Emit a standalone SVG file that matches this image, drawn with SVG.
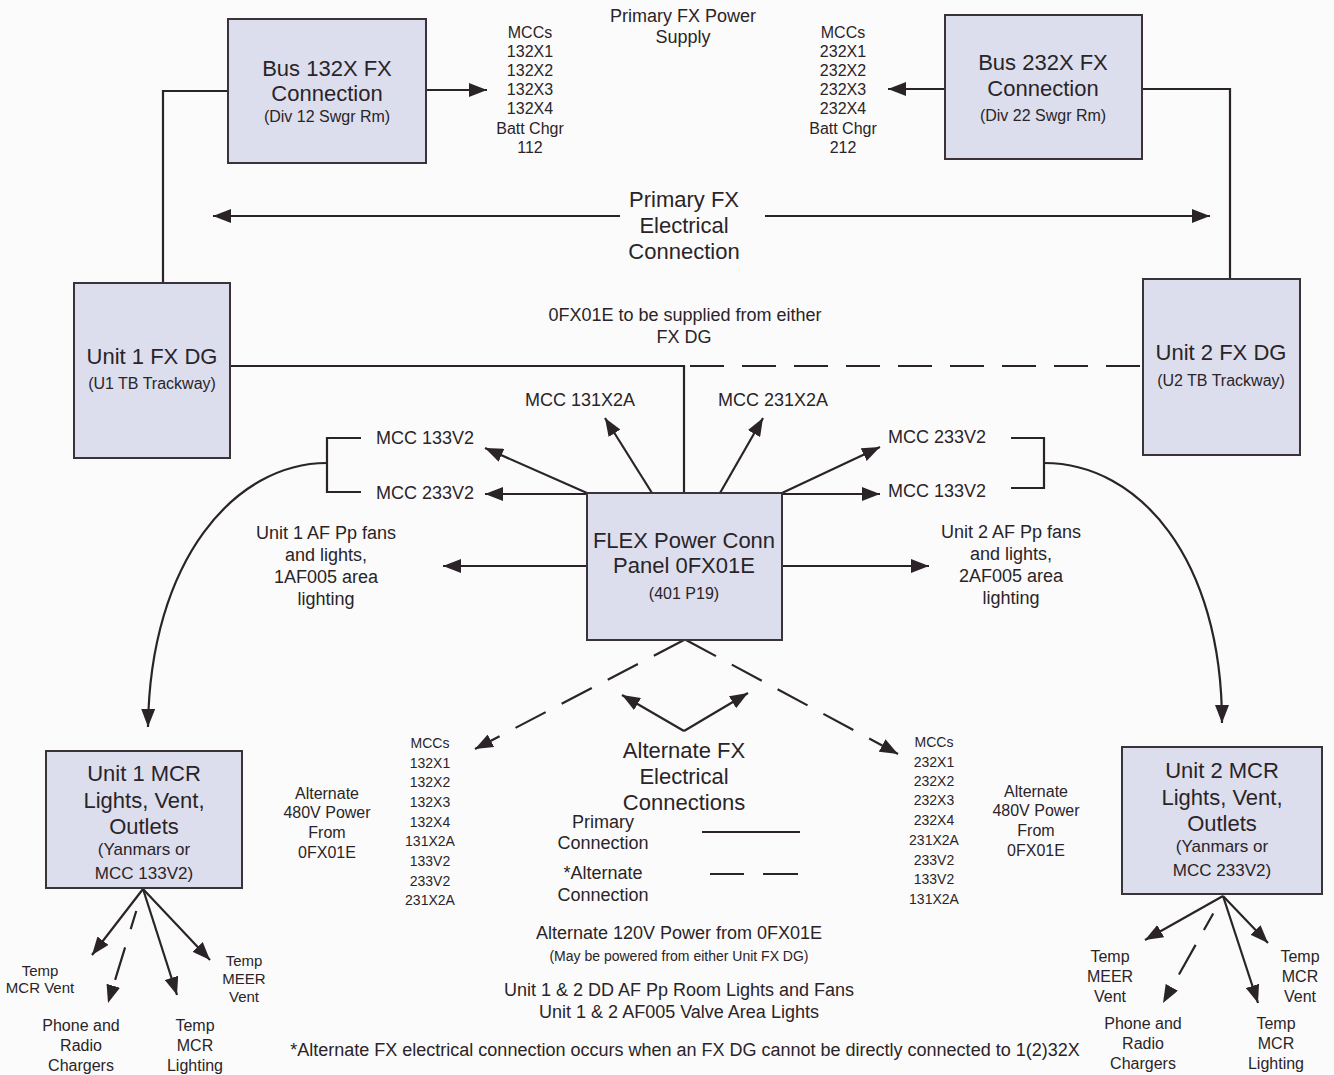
<svg xmlns="http://www.w3.org/2000/svg" width="1334" height="1075" viewBox="0 0 1334 1075">
<style>
text{font-family:"Liberation Sans",Arial,sans-serif;fill:#2a2428;text-anchor:middle}
.box{fill:#dcdeed;stroke:#3a3438;stroke-width:2}
.big{font-size:22px}
.mid{font-size:18px}
.sm{font-size:16px}
.s17{font-size:17px}
.s15{font-size:15px}
.s14{font-size:14px}
.ln{fill:none;stroke:#2a2428;stroke-width:2.2}
.ar{fill:none;stroke:#2a2428;stroke-width:2.2;marker-end:url(#ah)}
.da{stroke-dasharray:34 18}
</style>
<defs>
<marker id="ah" viewBox="0 0 18 14" refX="18" refY="7" markerWidth="18" markerHeight="14" markerUnits="userSpaceOnUse" orient="auto"><path d="M0,0 L18,7 L0,14 z" fill="#2a2428"/></marker>
</defs>
<rect width="1334" height="1075" fill="#fbfbfb"/>

<g id="connectors">
<path class="ar" d="M426,90 H487"/>
<path class="ln" d="M228,91 H163 V283"/>
<path class="ar" d="M945,89 H888"/>
<path class="ln" d="M1142,89 H1230 V279"/>
<path class="ar" d="M620,216 H213"/>
<path class="ar" d="M765,216 H1210"/>
<path class="ln" d="M230,366 H684 V493"/>
<path class="ln da" d="M690,366 H1143"/>
<path class="ar" d="M587,493 L485,448"/>
<path class="ar" d="M587,494 H485"/>
<path class="ar" d="M652,493 L605,418"/>
<path class="ar" d="M720,493 L763,418"/>
<path class="ar" d="M782,493 L880,447"/>
<path class="ar" d="M782,494 H880"/>
<path class="ar" d="M587,566 H443"/>
<path class="ar" d="M782,566 H929"/>
<path class="ln" d="M361,438 H327 V492 H361"/>
<path class="ar" d="M327,463 C235,463 150,560 148,727"/>
<path class="ln" d="M1011,438 H1044 V488 H1011"/>
<path class="ar" d="M1044,463 C1140,463 1222,560 1222,723"/>
<path class="ar da" d="M684,640 L475,749"/>
<path class="ar da" d="M686,640 L898,754"/>
<path class="ar" d="M684,731 L622,695"/>
<path class="ar" d="M684,731 L748,693"/>
<path class="ln" d="M702,832 H800"/>
<path class="ln" d="M710,874 H744 M763,874 H798"/>
<path class="ar" d="M143,889 L92,955"/>
<path class="ar" d="M143,889 L108,1003" style="stroke-dasharray:0 23 19 19 34 100"/>
<path class="ar" d="M143,889 L177,995"/>
<path class="ar" d="M143,889 L210,960"/>
<path class="ar" d="M1223,896 L1145,940"/>
<path class="ar" d="M1223,896 L1163,1003" style="stroke-dasharray:0 20 19 17 34 100"/>
<path class="ar" d="M1223,896 L1258,1003"/>
<path class="ar" d="M1223,896 L1268,943"/>
</g>

<g id="bus132x">
<rect class="box" x="228" y="19" width="198" height="144"/>
<text class="big" x="327" y="76">Bus 132X FX</text>
<text class="big" x="327" y="101">Connection</text>
<text class="sm" x="327" y="122">(Div 12 Swgr Rm)</text>
</g>
<g id="bus232x">
<rect class="box" x="945" y="15" width="197" height="144"/>
<text class="big" x="1043" y="70">Bus 232X FX</text>
<text class="big" x="1043" y="96">Connection</text>
<text class="sm" x="1043" y="121">(Div 22 Swgr Rm)</text>
</g>
<g id="unit1dg">
<rect class="box" x="74" y="283" width="156" height="175"/>
<text class="big" x="152" y="364">Unit 1 FX DG</text>
<text class="sm" x="152" y="389">(U1 TB Trackway)</text>
</g>
<g id="unit2dg">
<rect class="box" x="1143" y="279" width="157" height="176"/>
<text class="big" x="1221" y="360">Unit 2 FX DG</text>
<text class="sm" x="1221" y="386">(U2 TB Trackway)</text>
</g>
<g id="flexpanel">
<rect class="box" x="587" y="493" width="195" height="147"/>
<text class="big" x="684" y="548">FLEX Power Conn</text>
<text class="big" x="684" y="573">Panel 0FX01E</text>
<text class="sm" x="684" y="599">(401 P19)</text>
</g>
<g id="unit1mcr">
<rect class="box" x="46" y="751" width="196" height="137"/>
<text class="big" x="144" y="781">Unit 1 MCR</text>
<text class="big" x="144" y="808">Lights, Vent,</text>
<text class="big" x="144" y="834">Outlets</text>
<text class="s17" x="144" y="855">(Yanmars or</text>
<text class="s17" x="144" y="879">MCC 133V2)</text>
</g>
<g id="unit2mcr">
<rect class="box" x="1122" y="747" width="200" height="147"/>
<text class="big" x="1222" y="778">Unit 2 MCR</text>
<text class="big" x="1222" y="805">Lights, Vent,</text>
<text class="big" x="1222" y="831">Outlets</text>
<text class="s17" x="1222" y="852">(Yanmars or</text>
<text class="s17" x="1222" y="876">MCC 233V2)</text>
</g>

<g id="labels">
<text class="mid" x="683" y="22">Primary FX Power</text>
<text class="mid" x="683" y="43">Supply</text>
<g class="sm">
<text x="530" y="38">MCCs</text><text x="530" y="57">132X1</text><text x="530" y="76">132X2</text><text x="530" y="95">132X3</text><text x="530" y="114">132X4</text><text x="530" y="134">Batt Chgr</text><text x="530" y="153">112</text>
<text x="843" y="38">MCCs</text><text x="843" y="57">232X1</text><text x="843" y="76">232X2</text><text x="843" y="95">232X3</text><text x="843" y="114">232X4</text><text x="843" y="134">Batt Chgr</text><text x="843" y="153">212</text>
</g>
<text class="big" x="684" y="207">Primary FX</text>
<text class="big" x="684" y="233">Electrical</text>
<text class="big" x="684" y="259">Connection</text>
<text class="mid" x="685" y="321">0FX01E to be supplied from either</text>
<text class="mid" x="684" y="343">FX DG</text>
<text class="mid" x="580" y="406">MCC 131X2A</text>
<text class="mid" x="773" y="406">MCC 231X2A</text>
<text class="mid" x="425" y="444">MCC 133V2</text>
<text class="mid" x="425" y="499">MCC 233V2</text>
<text class="mid" x="937" y="443">MCC 233V2</text>
<text class="mid" x="937" y="497">MCC 133V2</text>
<text class="mid" x="326" y="539">Unit 1 AF Pp fans</text>
<text class="mid" x="326" y="561">and lights,</text>
<text class="mid" x="326" y="583">1AF005 area</text>
<text class="mid" x="326" y="605">lighting</text>
<text class="mid" x="1011" y="538">Unit 2 AF Pp fans</text>
<text class="mid" x="1011" y="560">and lights,</text>
<text class="mid" x="1011" y="582">2AF005 area</text>
<text class="mid" x="1011" y="604">lighting</text>
<text class="big" x="684" y="758">Alternate FX</text>
<text class="big" x="684" y="784">Electrical</text>
<text class="big" x="684" y="810">Connections</text>
<text class="mid" x="603" y="828">Primary</text>
<text class="mid" x="603" y="849">Connection</text>
<text class="mid" x="603" y="879">*Alternate</text>
<text class="mid" x="603" y="901">Connection</text>
<g class="s14">
<text x="430" y="748">MCCs</text><text x="430" y="768">132X1</text><text x="430" y="787">132X2</text><text x="430" y="807">132X3</text><text x="430" y="827">132X4</text><text x="430" y="846">131X2A</text><text x="430" y="866">133V2</text><text x="430" y="886">233V2</text><text x="430" y="905">231X2A</text>
<text x="934" y="747">MCCs</text><text x="934" y="767">232X1</text><text x="934" y="786">232X2</text><text x="934" y="805">232X3</text><text x="934" y="825">232X4</text><text x="934" y="845">231X2A</text><text x="934" y="865">233V2</text><text x="934" y="884">133V2</text><text x="934" y="904">131X2A</text>
</g>
<g class="sm">
<text x="327" y="799">Alternate</text><text x="327" y="818">480V Power</text><text x="327" y="838">From</text><text x="327" y="858">0FX01E</text>
<text x="1036" y="797">Alternate</text><text x="1036" y="816">480V Power</text><text x="1036" y="836">From</text><text x="1036" y="856">0FX01E</text>
</g>
<g class="s15">
<text x="40" y="976">Temp</text><text x="40" y="993">MCR Vent</text>
<text x="244" y="966">Temp</text><text x="244" y="984">MEER</text><text x="244" y="1002">Vent</text>
</g>
<g class="sm">
<text x="81" y="1031">Phone and</text><text x="81" y="1051">Radio</text><text x="81" y="1071">Chargers</text>
<text x="195" y="1031">Temp</text><text x="195" y="1051">MCR</text><text x="195" y="1071">Lighting</text>
<text x="1110" y="962">Temp</text><text x="1110" y="982">MEER</text><text x="1110" y="1002">Vent</text>
<text x="1143" y="1029">Phone and</text><text x="1143" y="1049">Radio</text><text x="1143" y="1069">Chargers</text>
<text x="1300" y="962">Temp</text><text x="1300" y="982">MCR</text><text x="1300" y="1002">Vent</text>
<text x="1276" y="1029">Temp</text><text x="1276" y="1049">MCR</text><text x="1276" y="1069">Lighting</text>
</g>
<text class="mid" x="679" y="939">Alternate 120V Power from 0FX01E</text>
<text class="s14" x="679" y="961">(May be powered from either Unit FX DG)</text>
<text class="mid" x="679" y="996">Unit 1 &amp; 2 DD AF Pp Room Lights and Fans</text>
<text class="mid" x="679" y="1018">Unit 1 &amp; 2 AF005 Valve Area Lights</text>
<text class="mid" x="685" y="1056">*Alternate FX electrical connection occurs when an FX DG cannot be directly connected to 1(2)32X</text>
</g>
</svg>
